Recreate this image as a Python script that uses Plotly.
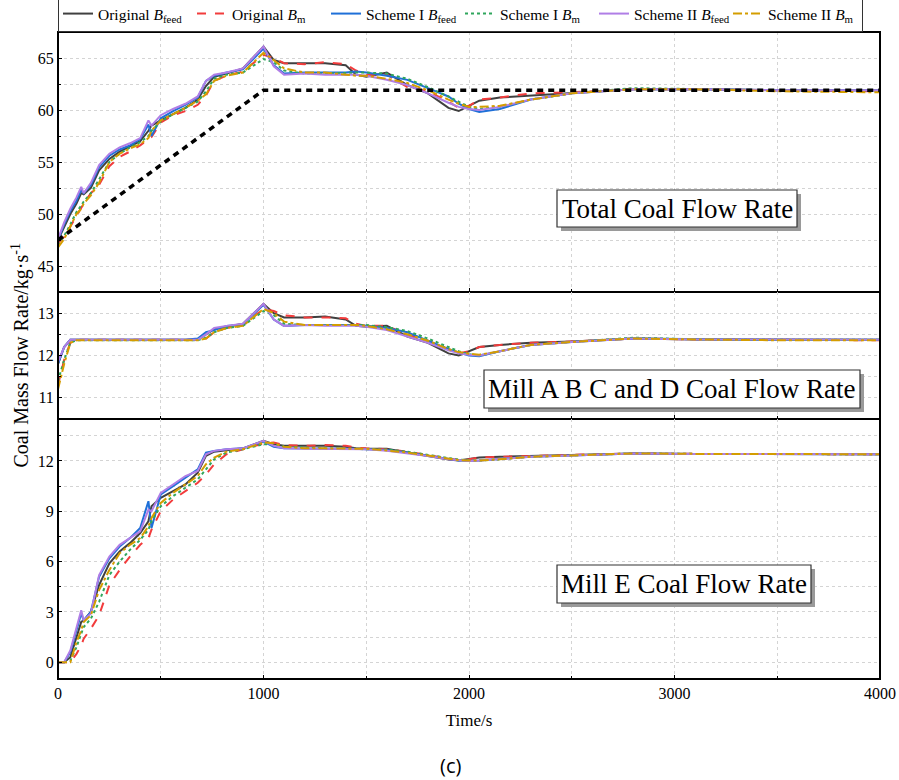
import plotly.graph_objects as go
from plotly.subplots import make_subplots

T = [0, 30, 60, 90, 113, 125, 160, 200, 250, 300,
     350, 400, 440, 455, 500, 560, 620, 680, 720, 760,
     820, 900, 1000, 1050, 1100, 1200, 1300, 1400, 1450, 1500,
     1600, 1700, 1800, 1900, 1950, 2000, 2050, 2150, 2300, 2500,
     2800, 3100, 3500, 4000]

# ---- Total coal flow rate ----
total_orig_feed = [47.5, 48.8, 50.0, 51.0, 52.0, 51.9, 52.5, 54.2, 55.3, 56.0,
                   56.5, 57.0, 58.0, 58.5, 59.0, 59.6, 60.2, 61.0, 62.3, 63.2,
                   63.5, 64.0, 66.1, 64.8, 64.5, 64.5, 64.5, 64.3, 63.4, 63.2,
                   63.6, 62.4, 61.6, 60.2, 59.9, 60.4, 60.9, 61.2, 61.4, 61.6,
                   62.0, 62.0, 61.9, 61.9]
total_orig_m = [47.2, 47.8, 48.8, 49.8, 50.6, 51.0, 52.0, 52.8, 54.6, 55.5,
                56.0, 56.6, 57.2, 57.4, 58.8, 59.5, 59.9, 60.5, 61.4, 62.8,
                63.3, 63.7, 65.3, 65.0, 64.5, 64.4, 64.6, 64.4, 63.8, 63.4,
                63.4, 62.2, 61.8, 60.8, 60.2, 60.4, 61.0, 61.2, 61.6, 61.7,
                62.0, 62.0, 61.9, 61.8]
total_s1_feed = [47.5, 49.0, 50.3, 51.3, 52.3, 52.0, 52.8, 54.5, 55.6, 56.2,
                 56.6, 57.2, 58.6, 57.5, 59.2, 59.9, 60.5, 61.2, 62.8, 63.3,
                 63.6, 63.9, 65.9, 64.3, 63.5, 63.6, 63.6, 63.6, 63.7, 63.6,
                 63.3, 62.9, 62.1, 61.3, 60.6, 60.1, 59.8, 60.1, 61.0, 61.6,
                 62.0, 62.0, 61.9, 61.9]
total_s1_m = [47.0, 47.9, 49.0, 50.2, 50.8, 51.2, 52.0, 53.3, 55.0, 55.8,
              56.4, 56.9, 57.5, 58.0, 58.9, 59.6, 60.2, 60.8, 61.8, 63.0,
              63.4, 63.6, 64.9, 64.6, 63.8, 63.5, 63.5, 63.6, 63.6, 63.6,
              63.5, 63.0, 62.2, 61.3, 60.8, 60.3, 60.1, 60.3, 61.0, 61.6,
              62.1, 62.0, 61.9, 61.9]
total_s2_feed = [47.6, 49.2, 50.5, 51.6, 52.6, 52.0, 53.0, 54.7, 55.8, 56.4,
                 56.8, 57.3, 59.0, 58.5, 59.5, 60.1, 60.6, 61.3, 62.8, 63.4,
                 63.6, 64.0, 66.1, 64.2, 63.4, 63.5, 63.4, 63.4, 63.4, 63.3,
                 62.9, 62.4, 61.6, 60.7, 60.3, 60.1, 60.0, 60.3, 61.0, 61.6,
                 62.0, 62.0, 61.9, 61.9]
total_s2_m = [46.8, 47.6, 48.8, 50.0, 50.5, 51.0, 51.8, 53.0, 55.0, 55.8,
              56.3, 56.7, 57.3, 58.0, 59.0, 59.6, 60.2, 60.9, 61.5, 62.8,
              63.3, 63.6, 65.5, 64.8, 64.0, 63.6, 63.6, 63.4, 63.3, 63.3,
              63.0, 62.6, 61.9, 61.0, 60.6, 60.3, 60.3, 60.4, 61.0, 61.6,
              62.0, 62.0, 61.8, 61.7]
ref_t = [0, 1000, 4000]
ref_total = [47.5, 61.9, 61.9]

# ---- Mill A B C and D ----
abcd_orig_feed = [11.8, 12.2, 12.37, 12.37, 12.37, 12.37, 12.37, 12.37, 12.37, 12.37,
                  12.37, 12.37, 12.37, 12.37, 12.37, 12.37, 12.37, 12.37, 12.5, 12.62,
                  12.68, 12.75, 13.22, 13.0, 12.9, 12.9, 12.92, 12.85, 12.7, 12.68,
                  12.7, 12.45, 12.3, 12.05, 12.0, 12.1, 12.2, 12.25, 12.3, 12.33,
                  12.4, 12.38, 12.37, 12.37]
abcd_orig_m = [11.3, 11.9, 12.3, 12.37, 12.37, 12.37, 12.38, 12.38, 12.37, 12.38,
               12.38, 12.37, 12.38, 12.37, 12.38, 12.37, 12.37, 12.37, 12.4, 12.55,
               12.65, 12.72, 13.1, 13.05, 12.95, 12.9, 12.9, 12.88, 12.75, 12.7,
               12.7, 12.5, 12.35, 12.15, 12.05, 12.1, 12.2, 12.25, 12.3, 12.33,
               12.4, 12.38, 12.37, 12.36]
abcd_s1_feed = [11.8, 12.2, 12.37, 12.37, 12.37, 12.37, 12.37, 12.37, 12.37, 12.37,
                12.37, 12.37, 12.37, 12.37, 12.37, 12.37, 12.37, 12.4, 12.55, 12.6,
                12.7, 12.73, 13.2, 12.85, 12.7, 12.72, 12.72, 12.72, 12.72, 12.7,
                12.65, 12.55, 12.35, 12.15, 12.07, 12.0, 11.98, 12.1, 12.25, 12.32,
                12.4, 12.38, 12.37, 12.37]
abcd_s1_m = [11.4, 11.9, 12.3, 12.36, 12.36, 12.36, 12.36, 12.36, 12.36, 12.36,
             12.36, 12.36, 12.36, 12.36, 12.36, 12.36, 12.36, 12.36, 12.42, 12.55,
             12.65, 12.7, 13.05, 12.95, 12.75, 12.72, 12.72, 12.72, 12.72, 12.72,
             12.67, 12.58, 12.4, 12.2, 12.1, 12.03, 12.0, 12.1, 12.25, 12.32,
             12.42, 12.38, 12.37, 12.37]
abcd_s2_feed = [11.85, 12.2, 12.37, 12.37, 12.37, 12.37, 12.37, 12.37, 12.37, 12.37,
                12.37, 12.37, 12.37, 12.37, 12.37, 12.37, 12.37, 12.37, 12.5, 12.65,
                12.7, 12.75, 13.22, 12.85, 12.7, 12.72, 12.7, 12.7, 12.7, 12.68,
                12.6, 12.45, 12.3, 12.12, 12.05, 12.02, 12.0, 12.1, 12.25, 12.32,
                12.4, 12.38, 12.37, 12.37]
abcd_s2_m = [11.2, 11.8, 12.3, 12.36, 12.36, 12.36, 12.36, 12.36, 12.36, 12.36,
             12.36, 12.36, 12.36, 12.36, 12.36, 12.36, 12.36, 12.36, 12.4, 12.55,
             12.65, 12.7, 13.1, 13.0, 12.8, 12.72, 12.72, 12.72, 12.72, 12.7,
             12.62, 12.5, 12.35, 12.15, 12.08, 12.04, 12.02, 12.1, 12.25, 12.32,
             12.4, 12.38, 12.36, 12.36]

# ---- Mill E ----
e_orig_feed = [0.0, 0.0, 0.3, 1.5, 2.4, 2.5, 3.0, 4.6, 5.9, 6.6,
               7.1, 7.7, 8.4, 9.3, 9.8, 10.2, 10.6, 11.3, 12.3, 12.55,
               12.65, 12.75, 13.2, 13.0, 12.9, 12.9, 12.9, 12.85, 12.75, 12.72,
               12.72, 12.5, 12.3, 12.08, 12.03, 12.1, 12.2, 12.25, 12.3, 12.35,
               12.45, 12.42, 12.4, 12.4]
e_orig_m = [0.0, 0.0, 0.0, 0.5, 1.0, 1.4, 2.0, 2.8, 4.6, 5.5,
            6.3, 7.0, 7.4, 7.9, 9.0, 9.7, 10.2, 10.7, 11.2, 11.8,
            12.4, 12.7, 13.05, 13.1, 12.95, 12.9, 12.95, 12.9, 12.8, 12.75,
            12.7, 12.55, 12.35, 12.15, 12.05, 12.1, 12.2, 12.25, 12.3, 12.35,
            12.45, 12.42, 12.4, 12.4]
e_s1_feed = [0.0, 0.0, 0.6, 1.9, 2.9, 2.5, 3.0, 5.1, 6.2, 6.9,
             7.4, 8.0, 9.6, 8.0, 10.0, 10.5, 11.0, 11.5, 12.5, 12.6,
             12.7, 12.75, 13.15, 12.85, 12.75, 12.75, 12.75, 12.72, 12.72, 12.7,
             12.65, 12.5, 12.3, 12.1, 12.03, 12.0, 12.02, 12.12, 12.25, 12.33,
             12.45, 12.42, 12.4, 12.4]
e_s1_m = [0.0, 0.0, 0.1, 0.9, 1.7, 2.1, 2.6, 3.6, 5.2, 6.0,
          6.7, 7.3, 7.9, 8.4, 9.3, 9.9, 10.4, 10.9, 11.5, 12.1,
          12.5, 12.7, 13.0, 13.0, 12.85, 12.78, 12.75, 12.72, 12.72, 12.72,
          12.68, 12.55, 12.35, 12.15, 12.08, 12.03, 12.02, 12.1, 12.25, 12.33,
          12.45, 12.42, 12.4, 12.4]
e_s2_feed = [0.0, 0.0, 0.7, 2.0, 3.1, 2.5, 2.9, 5.2, 6.3, 7.0,
             7.4, 7.8, 9.1, 9.0, 10.1, 10.6, 11.1, 11.4, 12.4, 12.6,
             12.7, 12.75, 13.2, 12.9, 12.75, 12.72, 12.72, 12.7, 12.7, 12.7,
             12.6, 12.45, 12.3, 12.1, 12.05, 12.0, 12.02, 12.12, 12.25, 12.33,
             12.45, 12.42, 12.4, 12.4]
e_s2_m = [0.0, 0.0, 0.0, 1.2, 1.9, 2.4, 2.8, 4.3, 5.5, 6.5,
          7.0, 7.4, 8.1, 8.6, 9.5, 10.1, 10.6, 11.1, 11.8, 12.2,
          12.55, 12.7, 13.1, 13.05, 12.85, 12.75, 12.75, 12.73, 12.72, 12.72,
          12.62, 12.5, 12.32, 12.12, 12.05, 12.03, 12.02, 12.1, 12.25, 12.33,
          12.45, 12.42, 12.4, 12.4]

names = ["Original <i>B</i><sub>feed</sub>", "Original <i>B</i><sub>m</sub>",
         "Scheme I <i>B</i><sub>feed</sub>", "Scheme I <i>B</i><sub>m</sub>",
         "Scheme II <i>B</i><sub>feed</sub>", "Scheme II <i>B</i><sub>m</sub>"]
colors = ["#404040", "#f23c3c", "#1f70d8", "#2fa65c", "#b07ee6", "#d49d00"]
dashes = ["solid", "dash", "solid", "dot", "solid", "dashdot"]

panels = [
    [total_orig_feed, total_orig_m, total_s1_feed, total_s1_m, total_s2_feed, total_s2_m],
    [abcd_orig_feed, abcd_orig_m, abcd_s1_feed, abcd_s1_m, abcd_s2_feed, abcd_s2_m],
    [e_orig_feed, e_orig_m, e_s1_feed, e_s1_m, e_s2_feed, e_s2_m],
]

fig = make_subplots(rows=3, cols=1, shared_xaxes=True, vertical_spacing=0)

for r, series in enumerate(panels, start=1):
    for i, ys in enumerate(series):
        fig.add_trace(go.Scatter(
            x=T, y=ys, mode="lines", name=names[i], legendgroup=names[i],
            showlegend=(r == 1),
            line=dict(color=colors[i], width=2, dash=dashes[i]),
        ), row=r, col=1)
    if r == 1:
        fig.add_trace(go.Scatter(
            x=ref_t, y=ref_total, mode="lines", showlegend=False,
            line=dict(color="black", width=3.5, dash="6px,5px"),
        ), row=1, col=1)

W, H = 899, 780
L, R = 58, 19
top, bot = 32, 679
pw = W - L - R
ph = bot - top
d_bot = [0, 260 / ph]
d_mid = [260 / ph, 387 / ph]
d_top = [387 / ph, 1]


def px(x):
    return (x - L) / pw


def py(y):
    return 1 - (y - top) / ph


font_serif = "Liberation Serif, Times New Roman, serif"
gridc = "#d4d4d4"
axis_common = dict(showline=True, linecolor="black", linewidth=1, mirror=True,
                   ticks="inside", ticklen=4, tickcolor="black", zeroline=False,
                   showgrid=True, gridcolor=gridc, griddash="dot", gridwidth=1,
                   tickfont=dict(family=font_serif, size=16, color="black"))

fig.update_layout(
    width=W, height=H,
    margin=dict(l=L, r=R, t=top, b=H - bot, autoexpand=False),
    plot_bgcolor="white", paper_bgcolor="white",
    font=dict(family=font_serif, color="black"),
    legend=dict(orientation="h", x=0, xanchor="left", y=1.0, yanchor="bottom",
                bordercolor="#333333", borderwidth=1, bgcolor="white",
                font=dict(family=font_serif, size=15.5, color="black"),
                itemwidth=30, entrywidth=89, tracegroupgap=0),
)

fig.update_xaxes(range=[0, 4000], dtick=1000, tick0=0,
                 minor=dict(dtick=500, showgrid=True, gridcolor=gridc, griddash="dot",
                            ticks="inside", ticklen=3, tickcolor="black"),
                 **axis_common)
fig.update_xaxes(showticklabels=False, row=1, col=1)
fig.update_xaxes(showticklabels=False, row=2, col=1)
fig.update_xaxes(showticklabels=True, row=3, col=1,
                 title=dict(text="Time/s", font=dict(family=font_serif, size=17), standoff=12))

fig.update_yaxes(**axis_common)
fig.update_yaxes(domain=d_top, range=[42.5, 67.5], dtick=5, tick0=0,
                 minor=dict(dtick=2.5, showgrid=True, gridcolor=gridc, griddash="dot",
                            ticks="inside", ticklen=3, tickcolor="black"),
                 row=1, col=1)
fig.update_yaxes(domain=d_mid, range=[10.5, 13.5], dtick=1, tick0=0,
                 minor=dict(dtick=0.5, showgrid=True, gridcolor=gridc, griddash="dot",
                            ticks="inside", ticklen=3, tickcolor="black"),
                 row=2, col=1)
fig.update_yaxes(domain=d_bot, range=[-1, 14.5], dtick=3, tick0=0,
                 minor=dict(dtick=1.5, showgrid=True, gridcolor=gridc, griddash="dot",
                            ticks="inside", ticklen=3, tickcolor="black"),
                 row=3, col=1)

# outer frame (thicker)
fig.add_shape(type="rect", xref="paper", yref="paper", x0=0, x1=1, y0=0, y1=1,
              line=dict(color="black", width=2), fillcolor="rgba(0,0,0,0)", layer="above")

# label boxes: (text, box left, right, top, bottom in pixels)
boxes = [("Total Coal Flow Rate", 557, 797, 190, 227),
         ("Mill A B C and D Coal Flow Rate", 484, 860, 370, 408),
         ("Mill E Coal Flow Rate", 557, 811, 565, 603)]
for text, x0, x1, y0, y1 in boxes:
    fig.add_shape(type="rect", xref="paper", yref="paper",
                  x0=px(x0 + 4), x1=px(x1 + 4), y0=py(y1 + 4), y1=py(y0 + 4),
                  line=dict(width=0), fillcolor="#9a9a9a", layer="above")
    fig.add_shape(type="rect", xref="paper", yref="paper",
                  x0=px(x0), x1=px(x1), y0=py(y1), y1=py(y0),
                  line=dict(color="#333333", width=1.2), fillcolor="white", layer="above")
    fig.add_annotation(x=px((x0 + x1) / 2), y=py((y0 + y1) / 2), xref="paper", yref="paper",
                       text=text, showarrow=False, xanchor="center", yanchor="middle",
                       font=dict(family=font_serif, size=27, color="black"))

fig.add_annotation(x=px(20), y=py((top + bot) / 2), xref="paper", yref="paper",
                   text="Coal Mass Flow Rate/kg·s<sup>-1</sup>", showarrow=False, textangle=-90,
                   xanchor="center", yanchor="middle",
                   font=dict(family=font_serif, size=20, color="black"))

fig.add_annotation(x=px(450), y=py(765), xref="paper", yref="paper", text="(c)",
                   showarrow=False, xanchor="center", yanchor="middle",
                   font=dict(family="Open Sans, DejaVu Sans, sans-serif", size=20, color="black"))

fig.write_html("out.html")
